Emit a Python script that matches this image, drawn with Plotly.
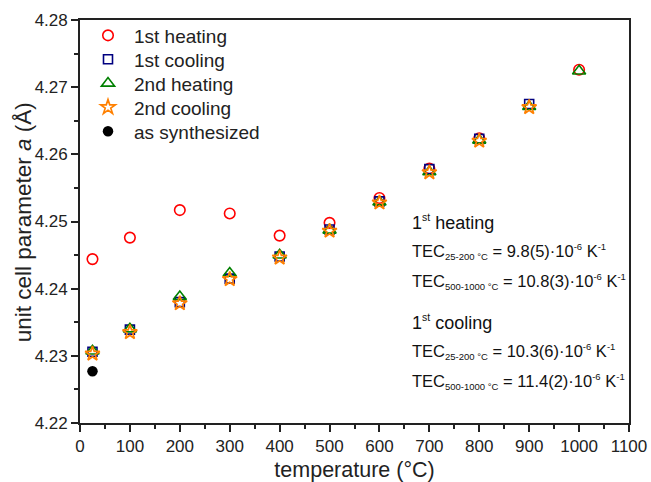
import plotly.graph_objects as go

# ---- data ----
heat1_T = [25, 100, 200, 300, 400, 500, 600, 700, 800, 1000]
heat1_a = [4.2444, 4.2476, 4.2517, 4.2512, 4.2479, 4.2498, 4.2535, 4.2579, 4.2624, 4.2726]

cool1_T = [25, 100, 200, 300, 400, 500, 600, 700, 800, 900]
cool1_a = [4.2306, 4.2339, 4.2380, 4.2415, 4.2448, 4.2488, 4.2530, 4.2578, 4.2623, 4.2675]

heat2_T = [25, 100, 200, 300, 400, 500, 600, 700, 800, 900, 1000]
heat2_a = [4.2307, 4.2340, 4.2388, 4.2423, 4.2450, 4.2487, 4.2529, 4.2574, 4.2621, 4.2671, 4.2724]

cool2_T = [25, 100, 200, 300, 400, 500, 600, 700, 800, 900]
cool2_a = [4.2303, 4.2335, 4.2378, 4.2414, 4.2446, 4.2486, 4.2528, 4.2573, 4.2620, 4.2670]

synth_T = [25]
synth_a = [4.2277]

x_ticks = [0, 100, 200, 300, 400, 500, 600, 700, 800, 900, 1000, 1100]
y_ticks = [4.22, 4.23, 4.24, 4.25, 4.26, 4.27, 4.28]

FONT = "Liberation Sans, Arial, sans-serif"

top_px, bot_px, left_px, right_px = 19.5, 423, 80, 629
def py(ypx):
    return (bot_px - ypx) / (bot_px - top_px)
def px(xpx):
    return (xpx - left_px) / (right_px - left_px)

fig = go.Figure()
series = [
    (heat1_T, heat1_a, "1st heating", dict(symbol="circle-open", size=10.5, color="#ff0000", line=dict(width=1.6)), 35),
    (cool1_T, cool1_a, "1st cooling", dict(symbol="square-open", size=9, color="#000080", line=dict(width=1.6)), 59),
    (heat2_T, heat2_a, "2nd heating", dict(symbol="triangle-up-open", size=11.5, color="#008000", line=dict(width=1.6)), 83),
    (cool2_T, cool2_a, "2nd cooling", dict(symbol="star-open", size=11, color="#ff8000", line=dict(width=1.7)), 107),
    (synth_T, synth_a, "as synthesized", dict(symbol="circle", size=10.5, color="#000000"), 131),
]
legend_layouts = {}
for i, (xs, ys, name, mk, row_y) in enumerate(series):
    lname = "legend" if i == 0 else f"legend{i+1}"
    fig.add_trace(go.Scatter(x=xs, y=ys, mode="markers", name=name, marker=mk, legend=lname))
    legend_layouts[lname] = dict(x=px(82), y=py(row_y), xanchor="left", yanchor="middle",
                                 bgcolor="rgba(0,0,0,0)", borderwidth=0,
                                 font=dict(family=FONT, size=19, color="#222"), itemwidth=42)

axis_common = dict(showline=True, linecolor="#222", linewidth=1.7, mirror=True,
                   ticks="outside", ticklen=7, tickwidth=1.6, tickcolor="#222",
                   showgrid=False, zeroline=False, automargin=False,
                   tickfont=dict(family=FONT, size=17, color="#222"))

fig.update_xaxes(range=[0, 1100], tickvals=x_ticks, ticktext=[str(v) for v in x_ticks],
                 minor=dict(ticks="outside", ticklen=4, tickwidth=1.6, tickcolor="#222", dtick=50, tick0=0),
                 title=dict(text="temperature (°C)", font=dict(family=FONT, size=21.5, color="#222"), standoff=12),
                 **axis_common)
fig.update_yaxes(range=[4.22, 4.28], tickvals=y_ticks, ticktext=[f"{v:.2f}" for v in y_ticks],
                 minor=dict(ticks="outside", ticklen=4, tickwidth=1.6, tickcolor="#222", dtick=0.005, tick0=4.22),
                 **axis_common)

# y-axis title as a rotated annotation so it can sit at the reference position
fig.add_annotation(x=px(23), y=py(222), xref="paper", yref="paper", xanchor="center", yanchor="middle",
                   text="unit cell parameter <i>a</i> (Å)", textangle=-90, showarrow=False,
                   font=dict(family=FONT, size=22.5, color="#222"))

def tec(sub, val):
    return ("TEC<sub><span style='font-size:9.5px'>" + sub + "</span></sub> = " + val +
            "·10<sup><span style='font-size:9.5px'>-6</span></sup> K<sup><span style='font-size:9.5px'>-1</span></sup>")

ann_lines = [
    ("1<sup><span style='font-size:10.5px'>st</span></sup> heating", 18, 222),
    (tec("25-200 °C", "9.8(5)"), 16.5, 251),
    (tec("500-1000 °C", "10.8(3)"), 16.5, 281),
    ("1<sup><span style='font-size:10.5px'>st</span></sup> cooling", 18, 322),
    (tec("25-200 °C", "10.3(6)"), 16.5, 351),
    (tec("500-1000 °C", "11.4(2)"), 16.5, 381),
]
for txt, fs, ypx in ann_lines:
    fig.add_annotation(x=px(410), y=py(ypx),
                       xref="paper", yref="paper", xanchor="left", yanchor="middle",
                       text=txt, showarrow=False, font=dict(family=FONT, size=fs, color="#111"))

fig.update_layout(
    width=651, height=482,
    margin=dict(l=80, r=22, t=20, b=59),
    paper_bgcolor="white", plot_bgcolor="white",
    font=dict(family=FONT, color="#222"),
    showlegend=True,
    **legend_layouts,
)

fig.write_html("out.html", config={"displayModeBar": False},
               post_script="document.body.style.margin='0px';document.body.style.padding='0px';")
